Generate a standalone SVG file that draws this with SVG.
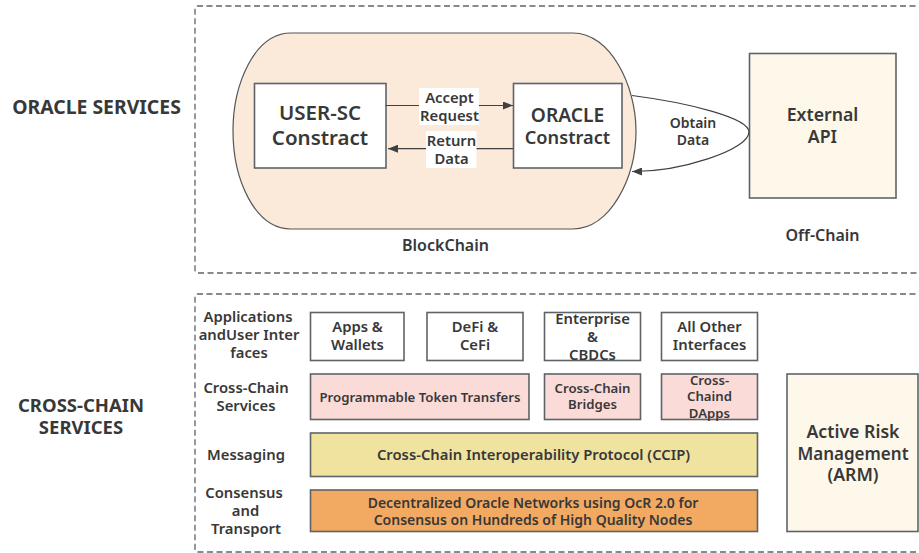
<svg xmlns="http://www.w3.org/2000/svg" width="919" height="553" viewBox="0 0 919 553">
<style>
text{font-family:"Noto Sans","Open Sans","Liberation Sans",sans-serif;font-weight:600;fill:#383838;text-anchor:middle}
.box{stroke:#5f6368;stroke-width:1.6}
.dash{fill:none;stroke:#5f6368;stroke-width:1.3;stroke-dasharray:6 3.5}
.line{fill:none;stroke:#404040;stroke-width:1.2}
.sec{font-size:18.500px;font-weight:700}
.t20{font-size:20.500px}.t18{font-size:18.200px}.t17{font-size:17.700px}.t16{font-size:16px}.t15{font-size:14.800px}.t14{font-size:14px}.t13b{font-size:13.200px}
</style>
<defs><marker id="arrow" markerUnits="userSpaceOnUse" markerWidth="12" markerHeight="8" refX="10" refY="4" orient="auto"><path d="M0 0L10 4L0 8Z" fill="#404040"/></marker></defs>
<rect width="919" height="553" fill="#fff"/>
<g id="frames">
<path class="dash" d="M925 6H198Q195 6 195 9V270Q195 273 198 273H925"/>
<path class="dash" d="M925 294H198Q195 294 195 297V549Q195 552 198 552H925"/>
</g>
<g id="section-labels">
<text class="sec" style="font-size:19.400px" x="96.500" y="114">ORACLE SERVICES</text>
<text class="sec" x="81" y="412"><tspan x="81" y="412">CROSS-CHAIN</tspan><tspan x="81" y="434">SERVICES</tspan></text>
</g>
<g id="blockchain">
<path d="M291 33H573C610 33 636 85 636 131C636 178 610 229 573 229H291C254 229 233 178 233 131C233 85 254 33 291 33Z" fill="#fbe9da" stroke="#555" stroke-width="1.2"/>
<text class="t16" x="445.500" y="251">BlockChain</text>
</g>
<g id="user-sc">
<rect class="box" x="254.500" y="83.500" width="131.500" height="84.500" fill="#fff"/>
<text class="t20" x="320" y="120"><tspan x="320" y="120">USER-SC</tspan><tspan x="320" y="145">Constract</tspan></text>
</g>
<g id="oracle">
<rect class="box" x="513.500" y="83.500" width="108.500" height="84.500" fill="#fff"/>
<text class="t18" x="567.500" y="122"><tspan style="font-size:19.200px" x="567.500" y="122">ORACLE</tspan><tspan x="567.500" y="144">Constract</tspan></text>
</g>
<g id="external-api">
<rect class="box" x="749.500" y="53.500" width="146.500" height="144.500" fill="#fdf8ea"/>
<text class="t17" x="822.500" y="121"><tspan x="822.500" y="121">External</tspan><tspan x="822.500" y="143">API</tspan></text>
<text class="t16" x="822.500" y="241">Off-Chain</text>
</g>
<g id="connectors">
<path class="line" d="M386 105.500H513" marker-end="url(#arrow)"/>
<path class="line" d="M513 148.700H388" marker-end="url(#arrow)"/>
<path class="line" d="M632 95.500C690 103 749 118 749 132C749 150 680 172 632 171.500" marker-end="url(#arrow)"/>
</g>
<g id="edge-labels">
<rect x="419" y="88" width="60" height="37" fill="#fff"/>
<text class="t15" x="449.500" y="103"><tspan x="449.500" y="103">Accept</tspan><tspan x="449.500" y="120.500">Request</tspan></text>
<rect x="426" y="131" width="50.500" height="37" fill="#fff"/>
<text class="t15" x="451.500" y="146"><tspan x="451.500" y="146">Return</tspan><tspan x="451.500" y="163.500">Data</tspan></text>
<text class="t14" x="693" y="128"><tspan x="693" y="128">Obtain</tspan><tspan x="693" y="145">Data</tspan></text>
</g>
<g id="layer-labels">
<text class="t15" x="248" y="322"><tspan x="248" y="322">Applications</tspan><tspan x="249" y="340">andUser Inter</tspan><tspan x="249" y="357.500">faces</tspan></text>
<text class="t15" x="246" y="393"><tspan x="246" y="393">Cross-Chain</tspan><tspan x="246" y="411">Services</tspan></text>
<text class="t15" x="246" y="460">Messaging</text>
<text class="t15" x="244" y="498"><tspan x="244" y="498">Consensus</tspan><tspan x="245.500" y="516">and</tspan><tspan x="246" y="534">Transport</tspan></text>
</g>
<g id="apps"><rect class="box" x="310.500" y="312.500" width="93.500" height="48" fill="#fff"/>
<text class="t15" x="357.500" y="332"><tspan x="357.500" y="332">Apps &amp;</tspan><tspan x="357.500" y="350">Wallets</tspan></text></g>
<g id="defi"><rect class="box" x="427" y="312.500" width="96" height="48" fill="#fff"/>
<text class="t15" x="475" y="332"><tspan x="475" y="332">DeFi &amp;</tspan><tspan x="475" y="350">CeFi</tspan></text></g>
<g id="enterprise"><rect class="box" x="544.500" y="312.500" width="96" height="48" fill="#fff"/>
<text class="t15" x="592.500" y="324"><tspan x="592.500" y="324">Enterprise</tspan><tspan x="592.500" y="342">&amp;</tspan><tspan x="592.500" y="360">CBDCs</tspan></text></g>
<g id="other"><rect class="box" x="661.500" y="312.500" width="96" height="48" fill="#fff"/>
<text class="t15" x="709.500" y="332"><tspan x="709.500" y="332">All Other</tspan><tspan x="709.500" y="350">Interfaces</tspan></text></g>
<g id="token-transfers"><rect class="box" x="310.500" y="374" width="218.500" height="45.500" fill="#fadbd8"/>
<text class="t13b" x="420" y="401.500">Programmable Token Transfers</text></g>
<g id="bridges"><rect class="box" x="544.500" y="374" width="96" height="45.500" fill="#fadbd8"/>
<text class="t13b" x="592.500" y="393"><tspan x="592.500" y="393">Cross-Chain</tspan><tspan x="592.500" y="409">Bridges</tspan></text></g>
<g id="dapps"><rect class="box" x="661.500" y="374" width="96" height="45.500" fill="#fadbd8"/>
<text class="t13b" x="709.500" y="385"><tspan x="709.500" y="385">Cross-</tspan><tspan x="709.500" y="401">Chaind</tspan><tspan x="709.500" y="417.500">DApps</tspan></text></g>
<g id="ccip"><rect class="box" x="310.500" y="433" width="447" height="43.500" fill="#f0e3a0"/>
<text class="t15" x="533.500" y="460">Cross-Chain Interoperability Protocol (CCIP)</text></g>
<g id="oracle-networks"><rect class="box" x="310.500" y="490" width="447" height="41.500" fill="#f2a962"/>
<text class="t14" x="533" y="508"><tspan x="533" y="508">Decentralized Oracle Networks using OcR 2.0 for</tspan><tspan x="533" y="525">Consensus on Hundreds of High Quality Nodes</tspan></text></g>
<g id="arm"><rect class="box" x="787" y="374" width="131" height="157.500" fill="#fdf8ea"/>
<text class="t17" x="853" y="438"><tspan x="853" y="438">Active Risk</tspan><tspan style="font-size:17px" x="853" y="460">Management</tspan><tspan x="853" y="481">(ARM)</tspan></text></g>
</svg>
